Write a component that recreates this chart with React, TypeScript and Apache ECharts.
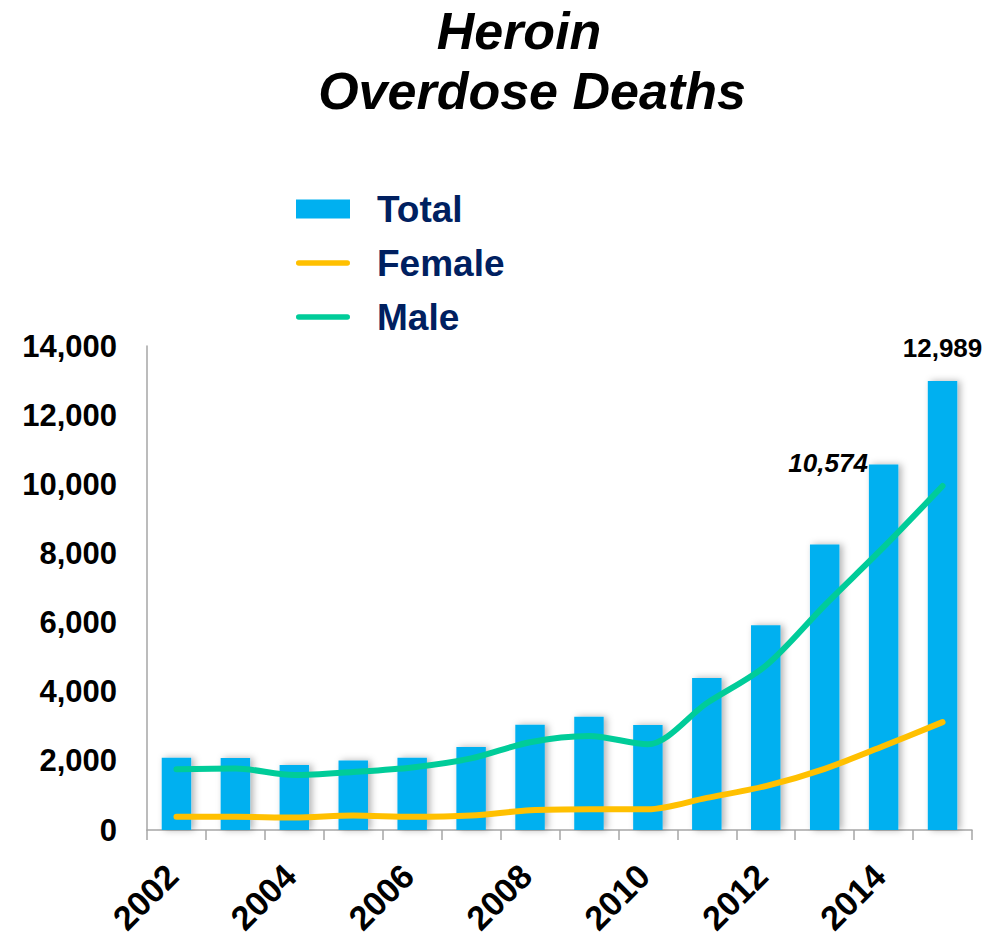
import React, { useEffect, useRef } from "react";
import * as echarts from "echarts";

const years = ["2002", "2003", "2004", "2005", "2006", "2007", "2008", "2009", "2010", "2011", "2012", "2013", "2014", "2015"];
const totalDeaths = [2089, 2080, 1878, 2009, 2088, 2399, 3041, 3278, 3036, 4397, 5925, 8257, 10574, 12989];
const femaleDeaths = [380, 380, 360, 420, 380, 420, 570, 600, 600, 930, 1270, 1770, 2430, 3120];
const maleDeaths = [1760, 1780, 1590, 1680, 1810, 2070, 2540, 2720, 2480, 3670, 4750, 6500, 8180, 9950];
const yTicks = [0, 2000, 4000, 6000, 8000, 10000, 12000, 14000];
const titleLines = ["Heroin", "Overdose Deaths"];

const FONT = "Arial, 'Liberation Sans', Helvetica, sans-serif";
const BLUE = "#00B0F0";
const GOLD = "#FFC000";
const GREEN = "#00CC99";
const PILL = "path://M3,0 L55,0 A3,3 0 0 1 55,6 L3,6 A3,3 0 0 1 3,0 Z";

export default function App() {
  const ref = useRef<HTMLDivElement>(null);

  useEffect(() => {
    if (!ref.current) return;
    const chart = echarts.init(ref.current, undefined, { renderer: "svg" });

    const fmt = (p: any) => Number(p.value).toLocaleString("en-US");
    const barData = totalDeaths.map((v, i) => {
      if (i === totalDeaths.length - 1) {
        return {
          value: v,
          label: {
            show: true,
            position: "top",
            distance: 20,
            fontSize: 26,
            fontWeight: "bold",
            color: "#000",
            fontFamily: FONT,
            formatter: fmt,
          },
        };
      }
      if (i === totalDeaths.length - 2) {
        return {
          value: v,
          label: {
            show: true,
            position: [-1, -1],
            align: "right",
            verticalAlign: "middle",
            fontSize: 26,
            fontWeight: "bold",
            fontStyle: "italic",
            color: "#000",
            fontFamily: FONT,
            formatter: fmt,
          },
        };
      }
      return v;
    });

    const titleStyle = {
      fontSize: 52,
      fontWeight: "bold",
      fontStyle: "italic",
      fontFamily: FONT,
      fill: "#000",
      textAlign: "center",
      textVerticalAlign: "middle",
    };

    chart.setOption({
      animation: false,
      backgroundColor: "#ffffff",
      graphic: [
        { type: "text", x: 519, y: 31, style: { ...titleStyle, text: titleLines[0] } },
        { type: "text", x: 532, y: 91, style: { ...titleStyle, text: titleLines[1] } },
      ],
      legend: {
        orient: "vertical",
        left: 296,
        top: 190,
        padding: 0,
        itemWidth: 54,
        itemHeight: 19,
        itemGap: 16,
        textStyle: {
          fontSize: 37,
          fontWeight: "bold",
          color: "#002060",
          fontFamily: FONT,
          padding: [0, 0, 0, 22],
          lineHeight: 38,
        },
        data: [
          { name: "Total", icon: "rect" },
          { name: "Female", icon: PILL },
          { name: "Male", icon: PILL },
        ],
      },
      grid: {
        left: 147,
        right: 26,
        top: 346,
        bottom: 106,
        containLabel: false,
        outerBoundsMode: "none",
      },
      xAxis: {
        type: "category",
        data: years,
        boundaryGap: true,
        axisLine: { show: true, lineStyle: { color: "#A6A6A6", width: 1.5 } },
        axisTick: { show: true, interval: 0, length: 10, lineStyle: { color: "#A6A6A6", width: 1.5 } },
        axisLabel: {
          interval: 1,
          rotate: 45,
          margin: 36,
          padding: [0, 6, 0, 0],
          fontSize: 34,
          lineHeight: 26,
          fontWeight: "bold",
          color: "#000",
          fontFamily: FONT,
        },
        splitLine: { show: false },
      },
      yAxis: {
        type: "value",
        min: yTicks[0],
        max: yTicks[yTicks.length - 1],
        interval: yTicks[1] - yTicks[0],
        axisLine: { show: true, lineStyle: { color: "#A6A6A6", width: 1.5 } },
        axisTick: { show: false },
        splitLine: { show: false },
        axisLabel: {
          margin: 30,
          fontSize: 31,
          fontWeight: "bold",
          color: "#000",
          fontFamily: FONT,
          formatter: (v: number) => v.toLocaleString("en-US"),
        },
      },
      series: [
        {
          name: "Total",
          type: "bar",
          data: barData,
          barWidth: "50%",
          itemStyle: {
            color: BLUE,
            shadowColor: "rgba(0,0,0,0.3)",
            shadowBlur: 7,
            shadowOffsetX: 3,
            shadowOffsetY: 0,
          },
          z: 2,
        },
        {
          name: "Female",
          type: "line",
          data: femaleDeaths,
          smooth: 0.3,
          symbol: "none",
          showSymbol: false,
          itemStyle: { color: GOLD },
          lineStyle: { color: GOLD, width: 6, cap: "round", join: "round" },
          z: 3,
        },
        {
          name: "Male",
          type: "line",
          data: maleDeaths,
          smooth: 0.3,
          symbol: "none",
          showSymbol: false,
          itemStyle: { color: GREEN },
          lineStyle: { color: GREEN, width: 6, cap: "round", join: "round" },
          z: 3,
        },
      ],
    });

    return () => {
      chart.dispose();
    };
  }, []);

  return (
    <div
      ref={ref}
      style={{ position: "fixed", left: 0, top: 0, width: 998, height: 936, background: "#fff" }}
    />
  );
}
